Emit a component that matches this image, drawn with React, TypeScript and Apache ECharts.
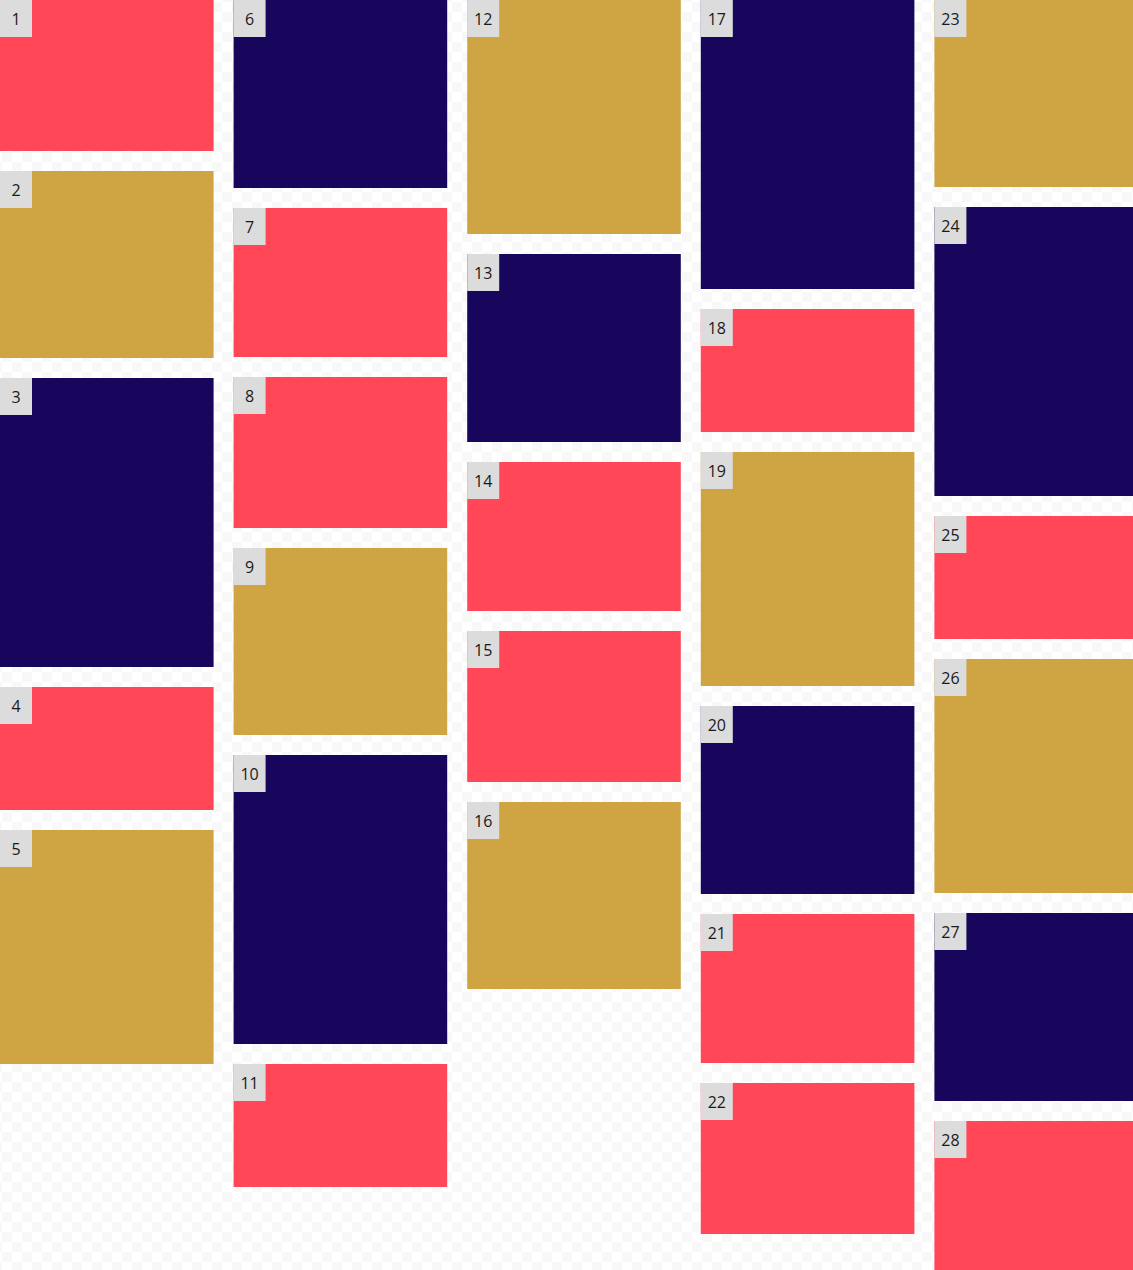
import React, { useEffect, useRef } from 'react';
import * as echarts from 'echarts';

// one entry per tile, in reading order down each column
const tileIds = [
  1, 2, 3, 4, 5, 6, 7, 8, 9, 10, 11, 12, 13, 14, 15, 16, 17, 18, 19, 20, 21, 22, 23, 24, 25, 26, 27, 28,
];
const tileColumns = [0, 0, 0, 0, 0, 1, 1, 1, 1, 1, 1, 2, 2, 2, 2, 2, 3, 3, 3, 3, 3, 3, 4, 4, 4, 4, 4, 4];
const tileHeights = [
  151, 187, 289, 123, 234, 188, 149, 151, 187, 289, 123, 234, 188, 149, 151, 187, 289, 123, 234, 188,
  149, 151, 187, 289, 123, 234, 188, 149,
];
const tileKinds = [
  'red', 'gold', 'navy', 'red', 'gold', 'navy', 'red', 'red', 'gold', 'navy', 'red', 'gold', 'navy', 'red',
  'red', 'gold', 'navy', 'red', 'gold', 'navy', 'red', 'red', 'gold', 'navy', 'red', 'gold', 'navy', 'red',
];

const COLORS: Record<string, string> = { red: '#ff4757', gold: '#cfa443', navy: '#17065c' };
const GAP = 20;
const COLUMN_COUNT = 5;
const COLUMN_STEP = 233.5;
const TOTAL_HEIGHT = 1270;

// stack tiles inside each column
function buildData() {
  const offsets = new Array(COLUMN_COUNT).fill(0);
  return tileIds.map((id, i) => {
    const col = tileColumns[i];
    const start = offsets[col];
    const end = start + tileHeights[i];
    offsets[col] = end + GAP;
    return { value: [col, start, end, id], kind: tileKinds[i] };
  });
}

export default function App() {
  const ref = useRef<HTMLDivElement>(null);

  useEffect(() => {
    document.body.style.margin = '0';
    if (!ref.current) return;
    const chart = echarts.init(ref.current, undefined, { renderer: 'svg' });
    const data = buildData();

    chart.setOption({
      animation: false,
      grid: { left: 0, top: 0, right: 0, bottom: 0 },
      xAxis: { type: 'value', min: 0, max: COLUMN_COUNT, show: false },
      yAxis: { type: 'value', min: 0, max: TOTAL_HEIGHT, inverse: true, show: false },
      series: [
        {
          type: 'custom',
          silent: true,
          clip: false,
          encode: { x: 0, y: [1, 2] },
          data,
          renderItem: (params: any, api: any) => {
            const col = api.value(0);
            const p0 = api.coord([col, api.value(1)]);
            const p1 = api.coord([col + 1, api.value(2)]);
            const w = p1[0] - p0[0] - GAP;
            const h = p1[1] - p0[1];
            const kind = data[params.dataIndex].kind;
            return {
              type: 'group',
              children: [
                { type: 'rect', shape: { x: p0[0], y: p0[1], width: w, height: h }, style: { fill: COLORS[kind] } },
                { type: 'rect', shape: { x: p0[0], y: p0[1], width: 32, height: 37 }, style: { fill: '#dcdcdc' } },
                {
                  type: 'text',
                  x: p0[0] + 16,
                  y: p0[1] + 19,
                  style: {
                    text: String(api.value(3)),
                    fill: '#1a1a1a',
                    fontSize: 16,
                    fontFamily: '"Open Sans", "Noto Sans", sans-serif',
                    align: 'center',
                    verticalAlign: 'middle',
                  },
                },
              ],
            };
          },
        },
      ],
    });

    return () => chart.dispose();
  }, []);

  // the last column runs past the right edge, as in the reference
  return (
    <div style={{ width: 1133, height: TOTAL_HEIGHT, overflow: 'hidden' }}>
      <div
        ref={ref}
        style={{
          width: COLUMN_COUNT * COLUMN_STEP,
          height: TOTAL_HEIGHT,
          background: 'repeating-conic-gradient(#f8f8f8 0 25%, #ffffff 0 50%) 2px 2px / 20px 20px',
        }}
      />
    </div>
  );
}
